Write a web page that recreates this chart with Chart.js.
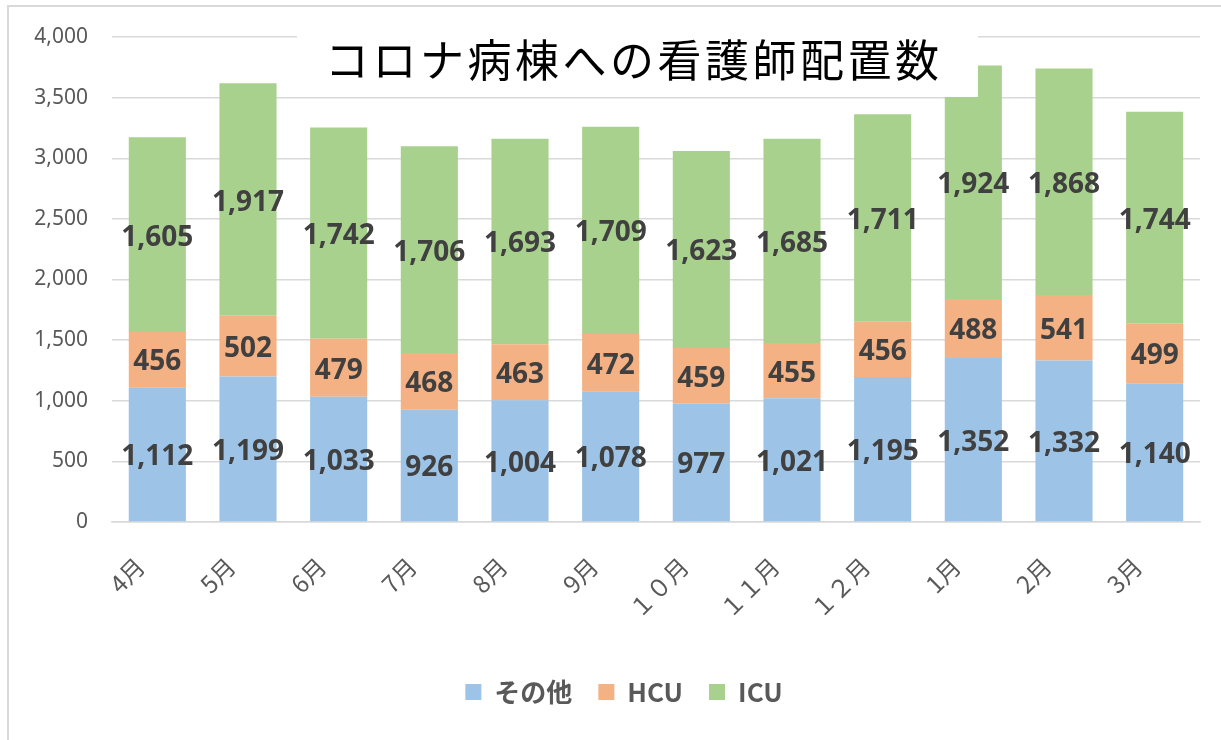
<!doctype html>
<html lang="ja">
<head>
  <meta charset="utf-8">
  <title>コロナ病棟への看護師配置数</title>
  <script src="https://cdn.jsdelivr.net/npm/chart.js@4.4.0/dist/chart.umd.min.js"></script>
  <style>
    html, body { margin: 0; padding: 0; background: #fff; }
    body { position: relative; width: 1221px; height: 740px; overflow: hidden; }
    #myChart { position: absolute; left: 0; top: 0; }
    .frame {
      position: absolute; left: 7px; top: 5px; width: 1240px; height: 760px;
      border-left: 2px solid #d9d9d9; border-top: 2px solid #d9d9d9; pointer-events: none;
    }
  </style>
</head>
<body>
<canvas id="myChart" width="1221" height="740"></canvas>
<div class="frame"></div>
<script>
  const months = ['4月', '5月', '6月', '7月', '8月', '9月', '１０月', '１１月', '１２月', '1月', '2月', '3月'];
  const other = [1112, 1199, 1033, 926, 1004, 1078, 977, 1021, 1195, 1352, 1332, 1140];
  const hcu = [456, 502, 479, 468, 463, 472, 459, 455, 456, 488, 541, 499];
  const icu = [1605, 1917, 1742, 1706, 1693, 1709, 1623, 1685, 1711, 1924, 1868, 1744];
  const titleText = 'コロナ病棟への看護師配置数';

  // legend in the original sits a bit right of the plot centre
  const legendShift = {
    id: 'legendShift',
    afterLayout(chart) {
      chart.legend.left += 24;
      chart.legend.right += 24;
    }
  };

  // value in the middle of each segment
  const barLabels = {
    id: 'barLabels',
    afterDatasetsDraw(chart) {
      const ctx = chart.ctx;
      ctx.save();
      ctx.font = 'bold 28px "Noto Sans"';
      ctx.fillStyle = '#404040';
      ctx.textAlign = 'center';
      ctx.textBaseline = 'middle';
      chart.data.datasets.forEach((ds, i) => {
        chart.getDatasetMeta(i).data.forEach((bar, j) => {
          const p = bar.getCenterPoint();
          ctx.fillText(ds.data[j].toLocaleString('en-US'), p.x, p.y + 3);
        });
      });
      ctx.restore();
    }
  };

  // title sits over the plot on a white box; chars spaced one by one
  const overTitle = {
    id: 'overTitle',
    afterDatasetsDraw(chart) {
      const ctx = chart.ctx;
      ctx.save();
      ctx.fillStyle = '#fff';
      ctx.fillRect(297, 24, 681, 73);
      ctx.fillStyle = '#000';
      ctx.font = '44px "Noto Sans CJK JP"';
      ctx.textAlign = 'center';
      ctx.textBaseline = 'middle';
      const chars = Array.from(titleText);
      const pitch = 47.5;
      const x0 = 632 - pitch * (chars.length - 1) / 2;
      chars.forEach((c, k) => ctx.fillText(c, x0 + k * pitch, 60));
      ctx.restore();
    }
  };

  new Chart(document.getElementById('myChart'), {
    type: 'bar',
    data: {
      labels: months,
      datasets: [
        { label: 'その他', data: other, backgroundColor: '#9dc3e6' },
        { label: 'HCU', data: hcu, backgroundColor: '#f4b183' },
        { label: 'ICU', data: icu, backgroundColor: '#a9d18e' }
      ]
    },
    options: {
      responsive: false,
      animation: false,
      layout: { padding: { left: 0, top: 37, right: 21, bottom: 25 } },
      datasets: { bar: { categoryPercentage: 1, barPercentage: 0.63 } },
      plugins: {
        title: { display: false },
        tooltip: { enabled: false },
        legend: {
          position: 'bottom',
          labels: {
            boxWidth: 16,
            boxHeight: 16,
            padding: 26,
            color: '#595959',
            font: { family: '"Noto Sans CJK JP"', size: 26, weight: 'bold' }
          }
        }
      },
      scales: {
        x: {
          stacked: true,
          grid: { display: false },
          border: { color: '#d9d9d9', width: 1.5 },
          afterFit(scale) { scale.height = 131; },
          ticks: {
            autoSkip: false,
            minRotation: 45,
            maxRotation: 90,
            padding: 22,
            labelOffset: -17,
            color: '#595959',
            font: { family: '"Noto Sans CJK JP"', size: 24 }
          }
        },
        y: {
          stacked: true,
          min: 0,
          max: 4000,
          border: { display: false },
          grid: { color: '#d9d9d9', lineWidth: 1.5, drawTicks: false },
          afterFit(scale) { scale.width = 112; },
          ticks: {
            stepSize: 500,
            padding: 24,
            color: '#595959',
            font: { family: '"Noto Sans"', size: 21 },
            callback: v => v.toLocaleString('en-US')
          }
        }
      }
    },
    plugins: [legendShift, barLabels, overTitle]
  });
</script>
</body>
</html>
